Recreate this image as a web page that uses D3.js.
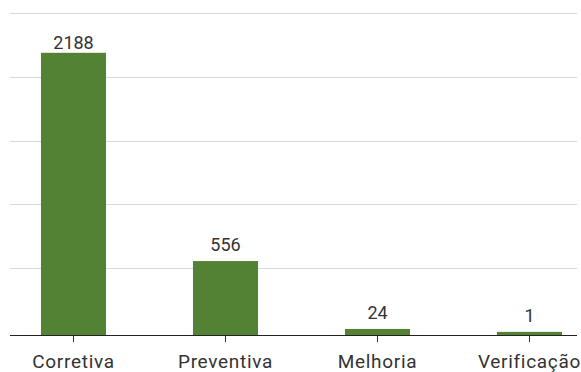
<!DOCTYPE html>
<html>
<head>
<meta charset="utf-8">
<script src="https://cdn.jsdelivr.net/npm/d3@7"></script>
<style>
  body { margin: 0; background: #fff; }
  svg { display: block; font-family: Roboto, "DejaVu Sans", sans-serif; }
</style>
</head>
<body>
<div id="chart"></div>
<script>
// chamados por tipo de manutenção
const categories = ["Corretiva", "Preventiva", "Melhoria", "Verificação"];
const counts = [2188, 556, 24, 1];
const gridTicks = [500, 1000, 1500, 2000, 2500];

const W = 581, H = 372;
const baseY = 335;

const svg = d3.select("#chart")
    .append("svg")
    .attr("width", W)
    .attr("height", H);

const data = categories.map((c, i) => ({ cat: c, value: counts[i] }));

// scales
const x = d3.scaleBand()
    .domain(categories)
    .range([-2.5, 605.5])
    .paddingInner(0.572)
    .paddingOuter(0.286);

const y = d3.scaleLinear()
    .domain([0, 2500])
    .range([332, 13]);

// gridlines
svg.append("g")
    .selectAll("line")
    .data(gridTicks)
    .join("line")
    .attr("x1", 10)
    .attr("x2", 577)
    .attr("y1", d => Math.round(y(d)) + 0.5)
    .attr("y2", d => Math.round(y(d)) + 0.5)
    .attr("stroke", "#d9d9d9")
    .attr("stroke-width", 1.2);

// x axis ticks and labels
const xAxis = svg.append("g")
    .attr("transform", `translate(0,${y(0)})`)
    .call(d3.axisBottom(x).tickSizeInner(10).tickSizeOuter(0).tickPadding(13));

xAxis.select(".domain").remove();
xAxis.selectAll(".tick line").attr("stroke", "#333");
xAxis.selectAll(".tick text")
    .attr("fill", "#333")
    .style("font-size", "19px")
    .style("letter-spacing", "0.7px")
    .style("font-family", "Roboto, sans-serif");

// bars
svg.append("g")
    .selectAll("rect")
    .data(data)
    .join("rect")
    .attr("x", d => x(d.cat))
    .attr("width", x.bandwidth())
    .attr("y", d => y(d.value))
    .attr("height", d => baseY - y(d.value))
    .attr("fill", "#548235");

// baseline
svg.append("line")
    .attr("x1", 10)
    .attr("x2", 577)
    .attr("y1", baseY + 0.5)
    .attr("y2", baseY + 0.5)
    .attr("stroke", "#222")
    .attr("stroke-width", 1);

// value labels
svg.append("g")
    .selectAll("text")
    .data(data)
    .join("text")
    .attr("x", d => x(d.cat) + x.bandwidth() / 2)
    .attr("y", d => Math.max(y(d.value) - 10, 49))
    .attr("text-anchor", "middle")
    .attr("fill", "#333")
    .style("font-size", "18px")
    .text(d => d.value);
</script>
</body>
</html>
